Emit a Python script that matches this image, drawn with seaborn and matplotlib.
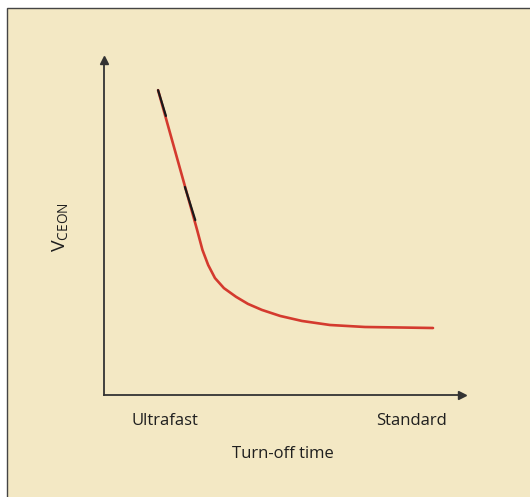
import numpy as np
import pandas as pd
import matplotlib
matplotlib.use("Agg")
import matplotlib.pyplot as plt
import seaborn as sns
from matplotlib.patches import Rectangle

# datos (unidades arbitrarias, 0-10)
turn_off = [1.51, 1.90, 2.29, 2.60, 2.75, 2.91, 3.10, 3.35, 3.69, 4.02, 4.41,
            4.92, 5.53, 6.31, 7.29, 8.27, 9.19]
vceon = [9.10, 7.61, 6.12, 4.93, 4.33, 3.88, 3.49, 3.19, 2.93, 2.72, 2.54,
         2.36, 2.21, 2.09, 2.03, 2.015, 2.00]

# marquitas negras sobre la curva (vienen del escaneo)
marca1_x = [1.51, 1.73]
marca1_y = [9.10, 8.33]
marca2_x = [2.26, 2.55]
marca2_y = [6.21, 5.22]

x_ticks = ["Ultrafast", "Standard"]
x_tick_pos = [1.7, 8.6]

df = pd.DataFrame({"t": turn_off, "v": vceon})

sns.set_style("white")
plt.rcParams["font.family"] = ["Open Sans", "DejaVu Sans"]

fondo = "#F3E8C4"
texto = "#1f1f1f"

fig = plt.figure(figsize=(5.30, 4.97), dpi=100)
fig.patch.set_facecolor("white")
fig.patches.append(Rectangle((7 / 530, -0.01), 1, 1 - 8 / 497 + 0.01, transform=fig.transFigure,
                             facecolor=fondo, edgecolor="#444444", linewidth=1.0, zorder=-10))

ax = fig.add_axes([104 / 530, 102 / 497, 358 / 530, 335 / 497])
ax.set_facecolor("none")
ax.set_zorder(5)

sns.lineplot(data=df, x="t", y="v", ax=ax, color="#D43A2E", linewidth=1.9, sort=False)
ax.plot(marca1_x, marca1_y, color="#1a1a1a", linewidth=1.6)
ax.plot(marca2_x, marca2_y, color="#1a1a1a", linewidth=1.6)

ax.set_xlim(0, 10)
ax.set_ylim(0, 10)

sns.despine(ax=ax)
for s in ["left", "bottom"]:
    ax.spines[s].set_color("#333333")
    ax.spines[s].set_linewidth(1.3)

# flechas de los ejes
ax.plot(1, 0, ">", color="#333333", markersize=6, transform=ax.transAxes, clip_on=False)
ax.plot(0, 1, "^", color="#333333", markersize=6, transform=ax.transAxes, clip_on=False)

ax.set_xticks(x_tick_pos)
ax.set_xticklabels(x_ticks, fontsize=12, color=texto)
ax.tick_params(axis="x", length=0, pad=13)
ax.set_yticks([])

ax.set_xlabel("Turn-off time", fontsize=12, color=texto, labelpad=12)
ax.set_ylabel(r"V$_{\mathregular{CEON}}$", fontsize=14, color=texto, labelpad=24)

fig.savefig("out.png", dpi=100)
